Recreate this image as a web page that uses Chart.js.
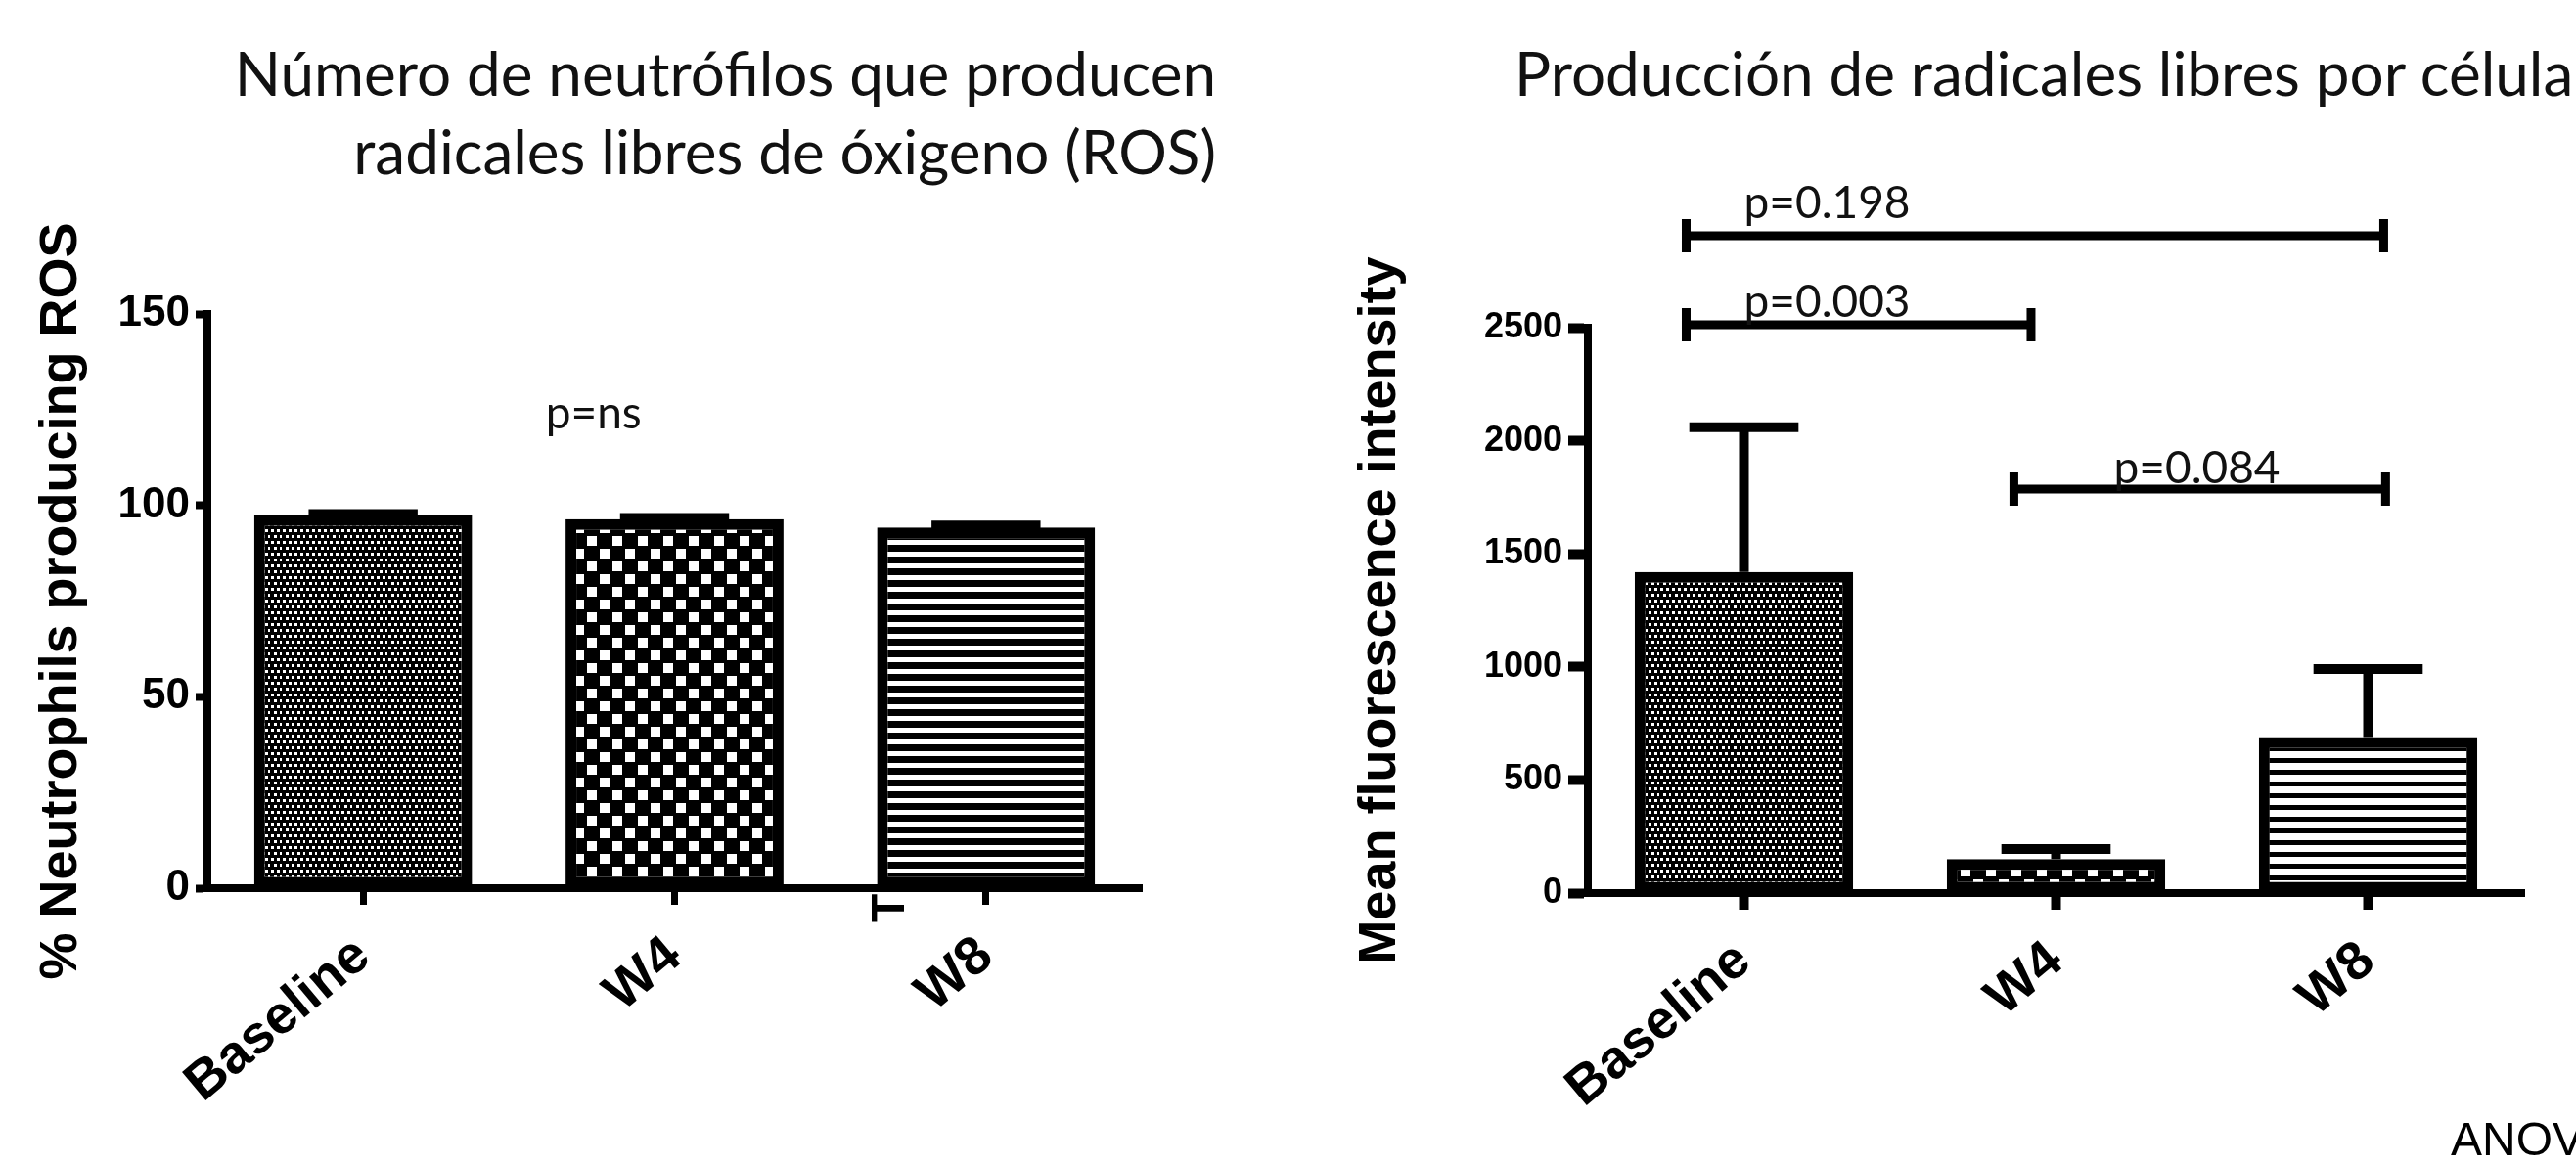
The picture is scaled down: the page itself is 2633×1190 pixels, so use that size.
<!DOCTYPE html>
<html lang="es">
<head>
<meta charset="UTF-8">
<title>Neutrófilos y producción de ROS</title>
<script src="https://cdn.jsdelivr.net/npm/chart.js"></script>
<style>
  html, body { margin: 0; padding: 0; background: #fff; }
  #page { position: relative; width: 2633px; height: 1190px; overflow: hidden; background: #fff; }
  canvas { position: absolute; top: 0; }
  #chartA { left: 0; }
  #chartB { left: 1300px; }
  .titulo { position: absolute; font-family: Lato, 'Open Sans', sans-serif; font-size: 62px; line-height: 80px; color: #111; white-space: nowrap; }
  #tituloA { right: 1390px; top: 34px; text-align: right; }
  #tituloB { left: 1548px; top: 34px; }
  #anova { position: absolute; left: 2505px; top: 1141px; font-family: 'Liberation Sans', Arial, sans-serif; font-size: 48px; line-height: 48px; white-space: nowrap; color: #000; }
</style>
</head>
<body>
<div id="page">
  <canvas id="chartA" width="1300" height="1190"></canvas>
  <canvas id="chartB" width="1333" height="1190"></canvas>
  <div class="titulo" id="tituloA">Número de neutrófilos que producen<br>radicales libres de óxigeno (ROS)</div>
  <div class="titulo" id="tituloB">Producción de radicales libres por célula</div>
  <div id="anova">ANOVA</div>
</div>
<script>
// datos
const categorias = ['Baseline', 'W4', 'W8'];
const rosPct = [97.4, 96.4, 94.2];
const rosPctSem = [98.0, 97.0, 95.0];
const mfi = [1420, 150, 690];
const mfiSem = [2060, 195, 990];
const ticksPct = [0, 50, 100, 150];
const ticksMfi = [0, 500, 1000, 1500, 2000, 2500];

// comparaciones (posición en categorías, nivel en unidades del eje)
const pTextos = ['p=0.198', 'p=0.003', 'p=0.084'];
const pDesde = [-0.185, -0.185, 0.865];
const pHasta = [2.05, 0.92, 2.056];
const pNivel = [2907, 2513, 1786];
const pTextoX = [0, 0, 1.185];
const pNs = { texto: 'p=ns', x: 0.74, y: 124 };

Chart.defaults.font.family = "'Liberation Sans', Arial, sans-serif";
Chart.defaults.color = '#000';

function patron(ctx, w, h, dibujar) {
  const c = document.createElement('canvas');
  c.width = w; c.height = h;
  const g = c.getContext('2d');
  g.fillStyle = '#000';
  g.fillRect(0, 0, w, h);
  g.fillStyle = '#fff';
  dibujar(g);
  return ctx.createPattern(c, 'repeat');
}
function puntos(ctx) {
  return patron(ctx, 12, 12, g => {
    [[1, 1], [7, 1], [4, 7], [10, 7]].forEach(p => g.fillRect(p[0], p[1], 3, 3));
  });
}
function cuadros(ctx) {
  return patron(ctx, 26, 26, g => {
    g.fillRect(2, 2, 10, 10);
    g.fillRect(15, 15, 10, 10);
  });
}
function rayas(ctx, blanco) {
  return patron(ctx, 12, 12, g => g.fillRect(0, 0, 12, blanco));
}

// barras de error (solo hacia arriba, como en Prism)
function barrasError(topes, grosor) {
  return {
    id: 'barrasError',
    afterDatasetsDraw(chart) {
      const ctx = chart.ctx;
      const y = chart.scales.y;
      ctx.save();
      ctx.strokeStyle = '#000';
      ctx.lineWidth = grosor;
      chart.getDatasetMeta(0).data.forEach((bar, i) => {
        const yTop = y.getPixelForValue(topes[i]);
        const half = bar.width * 0.25;
        ctx.beginPath();
        ctx.moveTo(bar.x, bar.y);
        ctx.lineTo(bar.x, yTop);
        ctx.moveTo(bar.x - half, yTop);
        ctx.lineTo(bar.x + half, yTop);
        ctx.stroke();
      });
      ctx.restore();
    }
  };
}

function corchetes() {
  return {
    id: 'corchetes',
    afterDraw(chart) {
      const ctx = chart.ctx;
      const x = chart.scales.x, y = chart.scales.y;
      const sep = [18, 8, 6];
      ctx.save();
      ctx.strokeStyle = '#000';
      ctx.fillStyle = '#111';
      ctx.lineWidth = 9;
      ctx.font = '46px Lato, sans-serif';
      ctx.textAlign = 'left';
      ctx.textBaseline = 'alphabetic';
      pTextos.forEach((t, i) => {
        const x0 = x.getPixelForValue(pDesde[i]);
        const x1 = x.getPixelForValue(pHasta[i]);
        const yy = y.getPixelForValue(pNivel[i]);
        ctx.beginPath();
        ctx.moveTo(x0, yy); ctx.lineTo(x1, yy);
        ctx.moveTo(x0, yy - 17); ctx.lineTo(x0, yy + 17);
        ctx.moveTo(x1, yy - 17); ctx.lineTo(x1, yy + 17);
        ctx.stroke();
        ctx.fillText(t, x.getPixelForValue(pTextoX[i]), yy - sep[i]);
      });
      ctx.restore();
    }
  };
}

function notasA() {
  return {
    id: 'notasA',
    afterDraw(chart) {
      const ctx = chart.ctx;
      const x = chart.scales.x, y = chart.scales.y;
      ctx.save();
      ctx.fillStyle = '#111';
      ctx.font = '46px Lato, sans-serif';
      ctx.textAlign = 'center';
      ctx.textBaseline = 'middle';
      ctx.fillText(pNs.texto, x.getPixelForValue(pNs.x), y.getPixelForValue(pNs.y));
      // resto de un texto girado que asoma bajo la barra W8
      const bar = chart.getDatasetMeta(0).data[2];
      ctx.translate(bar.x - bar.width / 2 + 28, chart.chartArea.bottom + 35);
      ctx.rotate(-Math.PI / 2);
      ctx.fillStyle = '#000';
      ctx.font = 'bold 48px "Liberation Sans", Arial, sans-serif';
      ctx.textAlign = 'left';
      ctx.textBaseline = 'alphabetic';
      ctx.fillText('T', 0, 0);
      ctx.restore();
    }
  };
}

function opciones(cfg) {
  return {
    responsive: false,
    animation: false,
    events: [],
    layout: { padding: cfg.padding },
    plugins: { legend: { display: false }, tooltip: { enabled: false } },
    scales: {
      x: {
        offset: true,
        grid: { display: true, drawOnChartArea: false, offset: false, tickLength: 17, tickWidth: cfg.tickX, tickColor: '#000' },
        border: { display: true, color: '#000', width: 8 },
        ticks: { autoSkip: false, minRotation: 40, maxRotation: 40, padding: 20, color: '#000',
                 font: { size: 55, weight: 'bold' } },
        afterFit: s => { s.height = cfg.altoX; }
      },
      y: {
        min: 0, max: cfg.max,
        afterBuildTicks: s => { s.ticks = cfg.ticks.map(v => ({ value: v })); },
        grid: { display: true, drawOnChartArea: false, tickLength: cfg.largoTick, tickWidth: cfg.tickY, tickColor: '#000' },
        border: { display: true, color: '#000', width: 8 },
        ticks: { padding: 6, color: '#000', font: { size: cfg.fuenteTick, weight: 'bold' },
                 callback: v => String(v) },
        title: { display: true, text: cfg.tituloY, color: '#000', font: { size: 54, weight: 'bold' },
                 padding: { top: cfg.padTitulo, bottom: 0 } },
        afterFit: s => { s.width = cfg.anchoY; }
      }
    }
  };
}

const ctxA = document.getElementById('chartA').getContext('2d');
new Chart(ctxA, {
  type: 'bar',
  data: {
    labels: categorias,
    datasets: [{
      data: rosPct,
      backgroundColor: [puntos(ctxA), cuadros(ctxA), rayas(ctxA, 5)],
      borderColor: '#000', borderWidth: 11, borderSkipped: false,
      barPercentage: 0.7, categoryPercentage: 1
    }]
  },
  options: opciones({
    padding: { top: 321, right: 133, bottom: 0, left: 0 },
    max: 150, ticks: ticksPct, fuenteTick: 44, largoTick: 12, tickY: 8, tickX: 7,
    tituloY: '% Neutrophils producing ROS', padTitulo: 31, anchoY: 212, altoX: 282
  }),
  plugins: [barrasError(rosPctSem, 8), notasA()]
});

const ctxB = document.getElementById('chartB').getContext('2d');
new Chart(ctxB, {
  type: 'bar',
  data: {
    labels: categorias,
    datasets: [{
      data: mfi,
      backgroundColor: [puntos(ctxB), cuadros(ctxB), rayas(ctxB, 7)],
      borderColor: '#000', borderWidth: 11, borderSkipped: false,
      barPercentage: 0.7, categoryPercentage: 1
    }]
  },
  options: opciones({
    padding: { top: 335, right: 53, bottom: 0, left: 0 },
    max: 2500, ticks: ticksMfi, fuenteTick: 36, largoTick: 20, tickY: 10, tickX: 10,
    tituloY: 'Mean fluorescence intensity', padTitulo: 79, anchoY: 323, altoX: 277
  }),
  plugins: [barrasError(mfiSem, 10), corchetes()]
});
</script>
</body>
</html>
